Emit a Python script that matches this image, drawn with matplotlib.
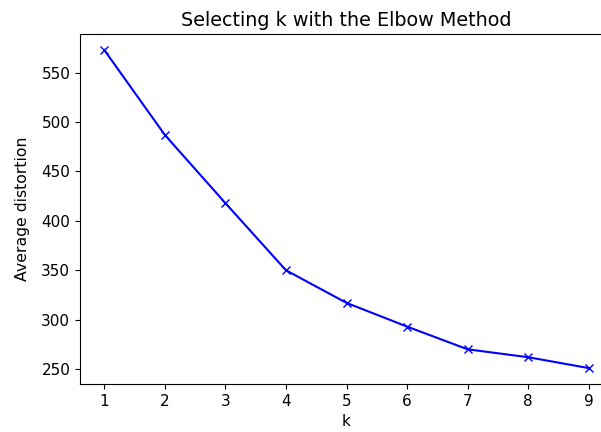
import matplotlib
matplotlib.use('Agg')
import matplotlib.pyplot as plt

k = [1, 2, 3, 4, 5, 6, 7, 8, 9]
distortion = [573, 487, 418, 350, 317, 293, 270, 262, 251]

fig = plt.figure(figsize=(6.01, 4.32), dpi=100)
ax = fig.add_axes([80/601, 48/432, 533/601, 350/432])
ax.plot(k, distortion, 'bx-')
ax.set_xlabel('k', fontsize=11)
ax.set_ylabel('Average distortion', fontsize=11.3, labelpad=8)
ax.set_title('Selecting k with the Elbow Method', fontsize=13.8)
ax.tick_params(labelsize=11)
fig.savefig('out.png', dpi=100)
